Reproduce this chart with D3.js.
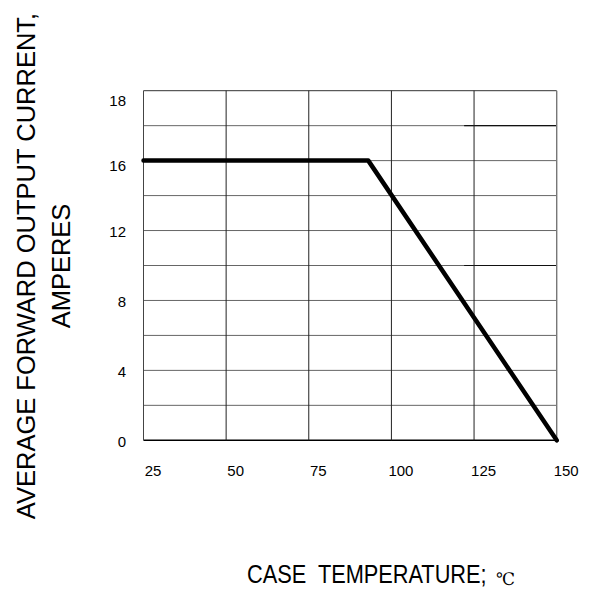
<!DOCTYPE html>
<meta charset="utf-8">
<style>
body { margin: 0; background: #fff; }
text { font-family: "Liberation Sans", Arial, sans-serif; fill: #000; }
.tick text { font-size: 15px; }
</style>
<body>
<script src="https://d3js.org/d3.v7.min.js"></script>
<script>

// curve: case temperature vs average forward output current
var temps = [25, 93, 150];
var amps = [16, 16, 0];

// axis ticks as printed on the sheet (top gridline is labelled 18)
var xTicks = [25, 50, 75, 100, 125, 150];
var yTicks = [0, 4, 8, 12, 16, 20];
var yTickText = ["0", "4", "8", "12", "16", "18"];
var gridRows = d3.range(0, 21, 2);
var darkRows = [18, 10];

var width = 596, height = 592;

var svg = d3.select("body").append("svg")
    .attr("width", width)
    .attr("height", height);

var x = d3.scaleLinear().domain([25, 150]).range([143.5, 556.7]);
var y = d3.scaleLinear().domain([0, 20]).range([440.3, 90.7]);

// grid
svg.append("g").selectAll("line")
    .data(gridRows)
  .enter().append("line")
    .attr("x1", x(25)).attr("x2", x(150))
    .attr("y1", d => y(d)).attr("y2", d => y(d))
    .attr("stroke", d => d == 0 ? "#000" : (d == 20 ? "#333" : "#666"))
    .attr("stroke-width", d => d == 0 ? 1.4 : 1);

// a couple of darker row segments at the right of the sheet
svg.append("g").selectAll("line")
    .data(darkRows)
  .enter().append("line")
    .attr("x1", x(122)).attr("x2", x(150))
    .attr("y1", d => y(d)).attr("y2", d => y(d))
    .attr("stroke", "#111")
    .attr("stroke-width", 1.2);

svg.append("g").selectAll("line")
    .data(xTicks)
  .enter().append("line")
    .attr("x1", d => x(d)).attr("x2", d => x(d))
    .attr("y1", y(20)).attr("y2", y(0))
    .attr("stroke", d => d == 150 ? "#777" : (d == 25 ? "#444" : "#222"))
    .attr("stroke-width", d => d == 150 ? 1.4 : 1);

// axes (labels only, lines come from the grid)
var xAxis = svg.append("g")
    .attr("transform", "translate(0," + 462 + ")")
    .call(d3.axisBottom(x).tickValues(xTicks).tickSize(0).tickFormat(d3.format("d")));
xAxis.select(".domain").remove();
xAxis.selectAll("text").attr("dx", 9).attr("dy", "0.7em");

var yAxis = svg.append("g")
    .attr("transform", "translate(" + 142 + ",0)")
    .call(d3.axisLeft(y).tickValues(yTicks).tickSize(0)
      .tickFormat((d, i) => yTickText[i]));
yAxis.select(".domain").remove();
yAxis.selectAll("text")
    .attr("dx", -13)
    .attr("dy", d => d == 20 ? "1.0em" : (d == 16 ? "0.65em" : "0.42em"));

// the derating curve
var line = d3.line()
    .x((d, i) => x(temps[i]))
    .y(d => y(d));

svg.append("path")
    .datum(amps)
    .attr("d", line)
    .attr("fill", "none")
    .attr("stroke", "#000")
    .attr("stroke-width", 4.5)
    .attr("stroke-linecap", "round")
    .attr("stroke-linejoin", "round");

// titles
svg.append("text")
    .attr("transform", "translate(35,266) rotate(-90)")
    .attr("text-anchor", "middle")
    .style("font-size", "25.5px")
    .text("AVERAGE FORWARD OUTPUT CURRENT,");

svg.append("text")
    .attr("transform", "translate(70,266) rotate(-90)")
    .attr("text-anchor", "middle")
    .style("font-size", "25.5px")
    .text("AMPERES");

// x title, narrowed a bit like the printed one
svg.append("text")
    .attr("transform", "translate(247,583) scale(0.87,1)")
    .style("font-size", "25px")
    .style("white-space", "pre")
    .text("CASE  TEMPERATURE;");

svg.append("text")
    .attr("x", 496)
    .attr("y", 585)
    .style("font-family", "\"DejaVu Serif\", \"Liberation Serif\", serif")
    .style("font-size", "17px")
    .text("℃");

</script>
</body>
